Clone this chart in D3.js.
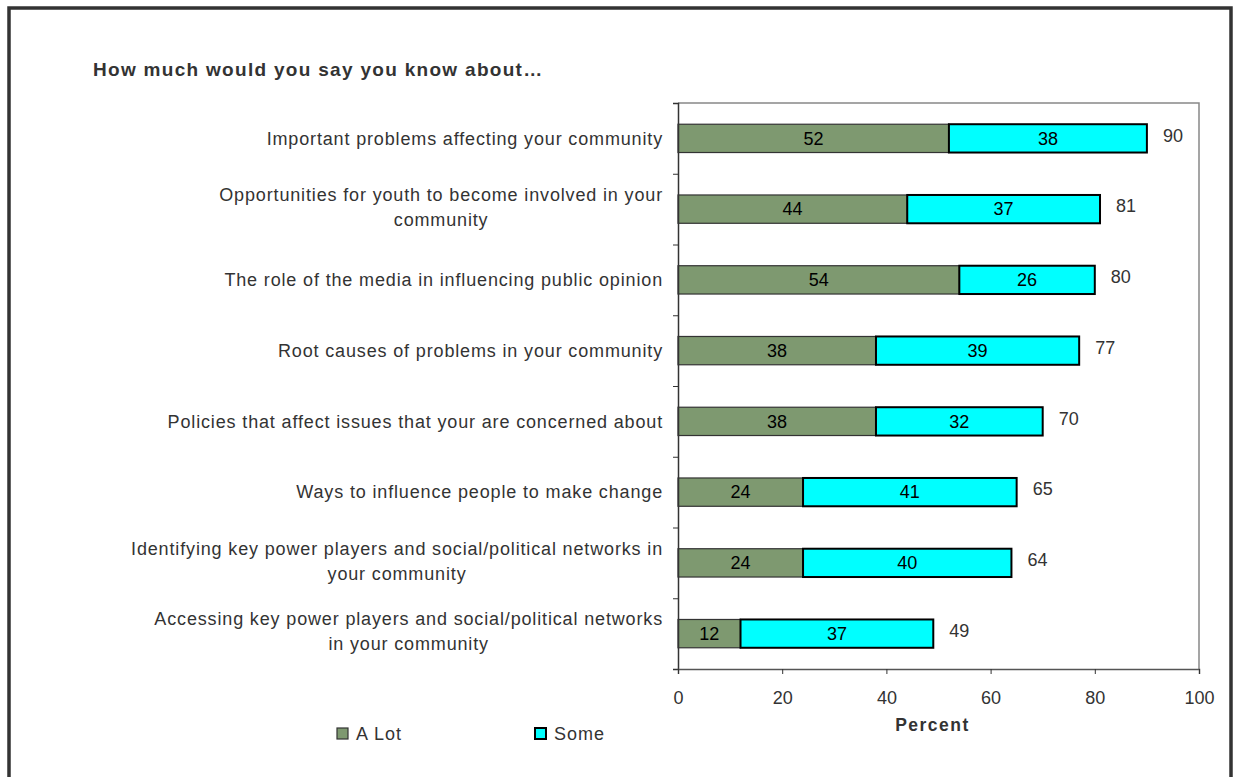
<!DOCTYPE html>
<html>
<head>
<meta charset="utf-8">
<script src="https://cdn.jsdelivr.net/npm/d3@7"></script>
<style>
  body { margin: 0; background: #fff; }
  text { font-family: "Liberation Sans", Arial, sans-serif; }
</style>
</head>
<body>
<div id="chart"></div>
<script>
// categories (| marks where the original label wraps)
var categories = [
  "Important problems affecting your community",
  "Opportunities for youth to become involved in your|community",
  "The role of the media in influencing public opinion",
  "Root causes of problems in your community",
  "Policies that affect issues that your are concerned about",
  "Ways to influence people to make change",
  "Identifying key power players and social/political networks in|your community",
  "Accessing key power players and social/political networks|in your community"
];
var aLot = [52, 44, 54, 38, 38, 24, 24, 12];
var some = [38, 37, 26, 39, 32, 41, 40, 37];
var totals = [90, 81, 80, 77, 70, 65, 64, 49];
var xTicks = [0, 20, 40, 60, 80, 100];
var seriesNames = ["A Lot", "Some"];

var width = 1235, height = 777;
var plot = {left: 678, right: 1199, top: 103, bottom: 669};

var svg = d3.select("#chart")
  .append("svg")
  .attr("width", width)
  .attr("height", height);

// outer frame
svg.append("rect")
  .attr("x", 9).attr("y", 8)
  .attr("width", 1222).attr("height", 800)
  .attr("fill", "none")
  .attr("stroke", "#333")
  .attr("stroke-width", 3.5);

// title
svg.append("text")
  .attr("x", 93).attr("y", 76)
  .attr("font-size", "19px")
  .attr("font-weight", "bold")
  .attr("letter-spacing", "1.3px")
  .attr("fill", "#333")
  .text("How much would you say you know about\u2026");

var x = d3.scaleLinear().domain([0, 100]).range([plot.left, plot.right]);
var y = d3.scaleBand()
  .domain(d3.range(categories.length))
  .range([plot.top, plot.bottom])
  .paddingInner(0.6)
  .paddingOuter(0.3);

// plot area border (top and right in gray)
svg.append("path")
  .attr("d", "M" + plot.left + "," + plot.top + "H" + plot.right + "V" + plot.bottom)
  .attr("fill", "none")
  .attr("stroke", "#888")
  .attr("stroke-width", 1.5);

// stacked bars
var stack = categories.map(function(c, i) {
  return [
    {s: 0, x0: 0, x1: aLot[i], v: aLot[i], i: i},
    {s: 1, x0: aLot[i], x1: aLot[i] + some[i], v: some[i], i: i}
  ];
});
var colors = ["#7e9970", "#00ffff"];
var strokes = ["#333", "#000"];

var segs = svg.append("g").selectAll("g")
  .data(stack)
  .enter()
  .append("g");

segs.selectAll("rect")
  .data(function(d) { return d; })
  .enter()
  .append("rect")
  .attr("x", function(d) { return x(d.x0); })
  .attr("y", function(d) { return y(d.i); })
  .attr("width", function(d) { return x(d.x1) - x(d.x0); })
  .attr("height", y.bandwidth())
  .attr("fill", function(d) { return colors[d.s]; })
  .attr("stroke", function(d) { return strokes[d.s]; })
  .attr("stroke-width", function(d) { return d.s == 1 ? 2 : 1.2; });

segs.selectAll("text")
  .data(function(d) { return d; })
  .enter()
  .append("text")
  .attr("x", function(d) { return (x(d.x0) + x(d.x1)) / 2; })
  .attr("y", function(d) { return y(d.i) + y.bandwidth() / 2; })
  .attr("dy", "0.35em")
  .attr("text-anchor", "middle")
  .attr("font-size", "18px")
  .attr("fill", "#000")
  .text(function(d) { return d.v; });

// totals to the right of the bars
svg.append("g").selectAll("text")
  .data(totals)
  .enter()
  .append("text")
  .attr("x", function(d) { return x(d) + 16; })
  .attr("y", function(d, i) { return y(i) + y.bandwidth() / 2 - 3; })
  .attr("dy", "0.35em")
  .attr("font-size", "18px")
  .attr("fill", "#333")
  .text(function(d) { return d; });

// left axis with ticks at category boundaries
var yEdges = d3.scaleLinear().domain([0, categories.length]).range([plot.top, plot.bottom]);
var leftAxis = svg.append("g")
  .attr("transform", "translate(" + plot.left + ",0)")
  .call(d3.axisLeft(yEdges).tickValues(d3.range(categories.length + 1)).tickSize(5).tickFormat(""));
leftAxis.select(".domain").attr("stroke", "#333").attr("stroke-width", 1.5);
leftAxis.selectAll(".tick line").attr("stroke", "#333");

// bottom axis
var bottomAxis = svg.append("g")
  .attr("transform", "translate(0," + plot.bottom + ")")
  .call(d3.axisBottom(x).tickValues(xTicks).tickSize(5).tickPadding(17));
bottomAxis.select(".domain").attr("stroke", "#555").attr("stroke-width", 1.5);
bottomAxis.selectAll(".tick line").attr("stroke", "#333");
bottomAxis.selectAll(".tick text")
  .attr("font-size", "18px")
  .attr("font-family", "Liberation Sans, Arial, sans-serif")
  .attr("fill", "#333");

svg.append("text")
  .attr("x", (plot.left + plot.right) / 2 - 6)
  .attr("y", 731)
  .attr("text-anchor", "middle")
  .attr("font-size", "17.5px")
  .attr("font-weight", "bold")
  .attr("letter-spacing", "1.5px")
  .attr("fill", "#333")
  .text("Percent");

// category labels, centred lines, right edge near the axis
var labels = svg.append("g").selectAll("text")
  .data(categories)
  .enter()
  .append("text")
  .attr("font-size", "18px")
  .attr("letter-spacing", "0.85px")
  .attr("fill", "#333")
  .attr("text-anchor", "middle");

labels.each(function(d, i) {
  var lines = d.split("|");
  var t = d3.select(this);
  var lh = 25;
  var cy = y(i) + y.bandwidth() / 2 - (lines.length > 1 ? 2 : 0);
  var spans = t.selectAll("tspan")
    .data(lines)
    .enter()
    .append("tspan")
    .attr("y", function(l, k) { return cy + (k - (lines.length - 1) / 2) * lh; })
    .attr("dy", "0.35em")
    .text(function(l) { return l; });
  var maxW = 0;
  spans.each(function() { maxW = Math.max(maxW, this.getComputedTextLength()); });
  spans.attr("x", 663 - maxW / 2);
});

// legend
var legend = svg.append("g").selectAll("g")
  .data(seriesNames)
  .enter()
  .append("g")
  .attr("transform", function(d, i) { return "translate(" + (337 + i * 198) + ",728)"; });

legend.append("rect")
  .attr("width", 11).attr("height", 11)
  .attr("fill", function(d, i) { return colors[i]; })
  .attr("stroke", function(d, i) { return i == 1 ? "#000" : "#333"; })
  .attr("stroke-width", function(d, i) { return i == 1 ? 2 : 1.2; });

legend.append("text")
  .attr("x", 19)
  .attr("y", 5.5)
  .attr("dy", "0.35em")
  .attr("font-size", "18px")
  .attr("letter-spacing", "1px")
  .attr("fill", "#333")
  .text(function(d) { return d; });
</script>
</body>
</html>
